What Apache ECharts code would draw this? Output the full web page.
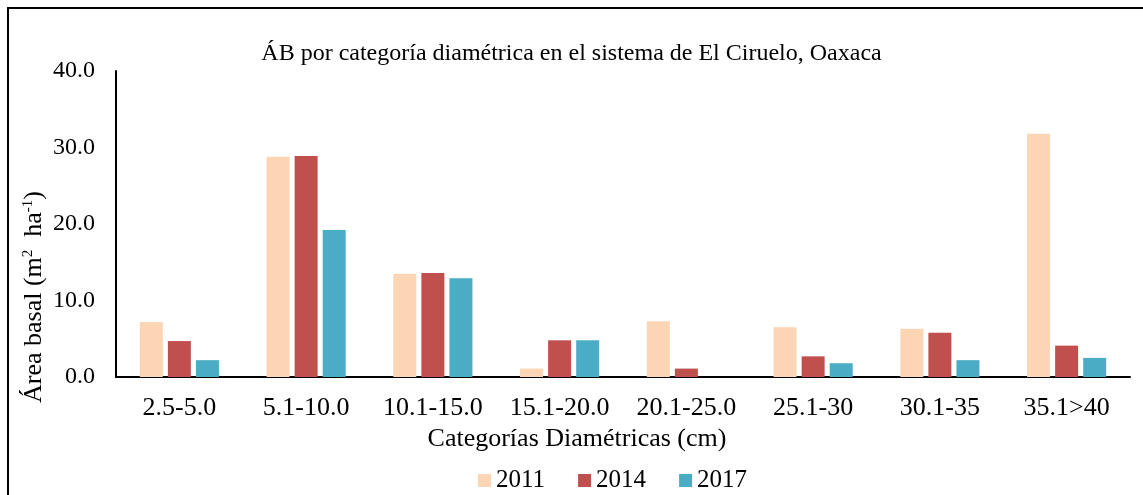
<!DOCTYPE html>
<html>
<head>
<meta charset="utf-8">
<script src="https://cdn.jsdelivr.net/npm/echarts@6/dist/echarts.min.js"></script>
<style>
  html, body { margin: 0; padding: 0; background: #fff; }
  #chart { width: 1143px; height: 495px; }
</style>
</head>
<body>
<div id="chart"></div>
<script>
// categorías diamétricas
const categories = ["2.5-5.0", "5.1-10.0", "10.1-15.0", "15.1-20.0", "20.1-25.0", "25.1-30", "30.1-35", "35.1>40"];
// área basal por año (m2 ha-1)
const ab2011 = [7.2, 28.8, 13.5, 1.1, 7.3, 6.5, 6.3, 31.8];
const ab2014 = [4.7, 28.9, 13.6, 4.8, 1.1, 2.7, 5.8, 4.1];
const ab2017 = [2.2, 19.2, 12.9, 4.8, 0, 1.8, 2.2, 2.5];
const yTicks = [0, 10, 20, 30, 40];

const font = "'Liberation Serif', 'Times New Roman', serif";
const chart = echarts.init(document.getElementById("chart"));

function barSeries(name, data, color) {
  return {
    name: name,
    type: "bar",
    data: data,
    barWidth: 23,
    barGap: "22%",
    itemStyle: { color: color }
  };
}

chart.setOption({
  animation: false,
  textStyle: { fontFamily: font, color: "#000" },
  title: {
    text: "ÁB por categoría diamétrica en el sistema de El Ciruelo, Oaxaca",
    left: "center",
    top: 37,
    textStyle: { fontFamily: font, fontSize: 24, fontWeight: "normal", color: "#000" }
  },
  grid: { left: 116, right: 13, top: 71, bottom: 118 },
  legend: {
    data: ["2011", "2014", "2017"],
    top: 463,
    left: 473,
    itemWidth: 13,
    itemHeight: 13,
    itemGap: 33,
    icon: "rect",
    textStyle: { fontFamily: font, fontSize: 25, color: "#000" }
  },
  xAxis: {
    type: "category",
    data: categories,
    name: "Categorías Diamétricas (cm)",
    nameLocation: "middle",
    nameGap: 48,
    nameTextStyle: { fontFamily: font, fontSize: 26, color: "#000", padding: [0, 92, 0, 0] },
    axisLine: { lineStyle: { color: "#000", width: 2 } },
    axisTick: { show: false },
    axisLabel: { fontFamily: font, fontSize: 26, color: "#000", margin: 18, interval: 0 }
  },
  yAxis: {
    type: "value",
    min: yTicks[0],
    max: yTicks[yTicks.length - 1],
    interval: 10,
    axisLine: { show: true, lineStyle: { color: "#000", width: 2 } },
    axisTick: { show: false },
    splitLine: { show: false },
    axisLabel: {
      fontFamily: font, fontSize: 24, color: "#000", margin: 21,
      formatter: v => v.toFixed(1)
    }
  },
  graphic: [
    {
      type: "rect",
      shape: { x: 8, y: 8, width: 1200, height: 600 },
      style: { fill: "none", stroke: "#000", lineWidth: 2 },
      silent: true
    },
    {
      type: "text",
      x: 34,
      y: 297,
      rotation: Math.PI / 2,
      style: {
        text: "{n|Área basal (m}{s|2}{n|  ha}{s|-1}{n|)}",
        align: "center",
        verticalAlign: "middle",
        rich: {
          n: { fontFamily: font, fontSize: 26, fill: "#000" },
          s: { fontFamily: font, fontSize: 15, fill: "#000", verticalAlign: "top", padding: [0, 0, 12, 0] }
        }
      }
    }
  ],
  series: [
    barSeries("2011", ab2011, "#FCD5B5"),
    barSeries("2014", ab2014, "#C0504D"),
    barSeries("2017", ab2017, "#4BACC6")
  ]
});
</script>
</body>
</html>
